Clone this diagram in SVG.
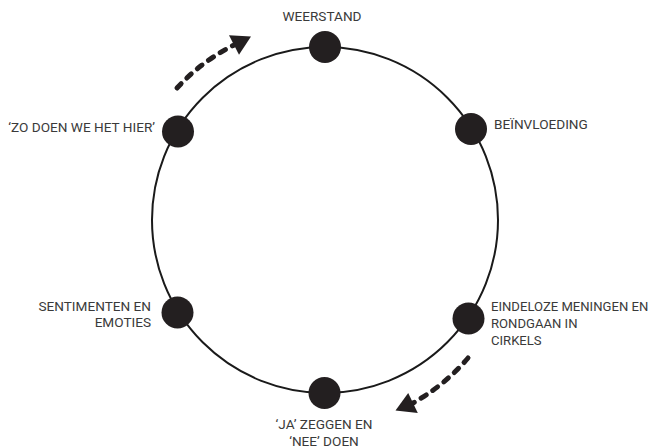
<svg xmlns="http://www.w3.org/2000/svg" width="653" height="447" viewBox="0 0 653 447">
<style>
  .ring{fill:none;stroke:#1a1a1a;stroke-width:2}
  .dot{fill:#231f20}
  .lbl{font-family:Roboto,"Liberation Sans",sans-serif;font-size:13.6px;fill:#3a3a3a}
  .sm{font-size:13.1px}
  .dash{fill:none;stroke:#231f20;stroke-width:5;stroke-linecap:round;stroke-dasharray:6 8}
  .head{fill:#231f20}
</style>
<rect width="653" height="447" fill="#fff"/>
<g id="connectors">
  <circle class="ring" cx="325" cy="220" r="173"/>
  <path class="dash" d="M177,88 A197,197 0 0 1 234,45"/>
  <polygon class="head" points="251,36.5 229,35.2 239,54.8"/>
  <path class="dash" d="M468,358 A200,200 0 0 1 413,403"/>
  <polygon class="head" points="395.5,410.5 417.8,412.9 408.2,393.1"/>
</g>
<g id="weerstand">
  <circle class="dot" cx="325" cy="47" r="16"/>
  <text class="lbl" x="322" y="21" text-anchor="middle">WEERSTAND</text>
</g>
<g id="beinvloeding">
  <circle class="dot" cx="471" cy="129" r="16"/>
  <text class="lbl" x="494" y="129">BEÏNVLOEDING</text>
</g>
<g id="eindeloze">
  <circle class="dot" cx="468.5" cy="318.5" r="16"/>
  <text class="lbl sm" x="491" y="311">EINDELOZE MENINGEN EN</text>
  <text class="lbl sm" x="491" y="328">RONDGAAN IN</text>
  <text class="lbl sm" x="491" y="345">CIRKELS</text>
</g>
<g id="ja-zeggen">
  <circle class="dot" cx="324.5" cy="393" r="16"/>
  <text class="lbl" x="324" y="429" text-anchor="middle">‘JA’ ZEGGEN EN</text>
  <text class="lbl" x="324" y="445.5" text-anchor="middle">‘NEE’ DOEN</text>
</g>
<g id="sentimenten">
  <circle class="dot" cx="177.5" cy="312.5" r="16"/>
  <text class="lbl" x="151" y="310.5" text-anchor="end">SENTIMENTEN EN</text>
  <text class="lbl" x="151" y="327" text-anchor="end">EMOTIES</text>
</g>
<g id="zo-doen">
  <circle class="dot" cx="178" cy="131.5" r="16"/>
  <text class="lbl" x="155" y="132" text-anchor="end">‘ZO DOEN WE HET HIER’</text>
</g>
</svg>
